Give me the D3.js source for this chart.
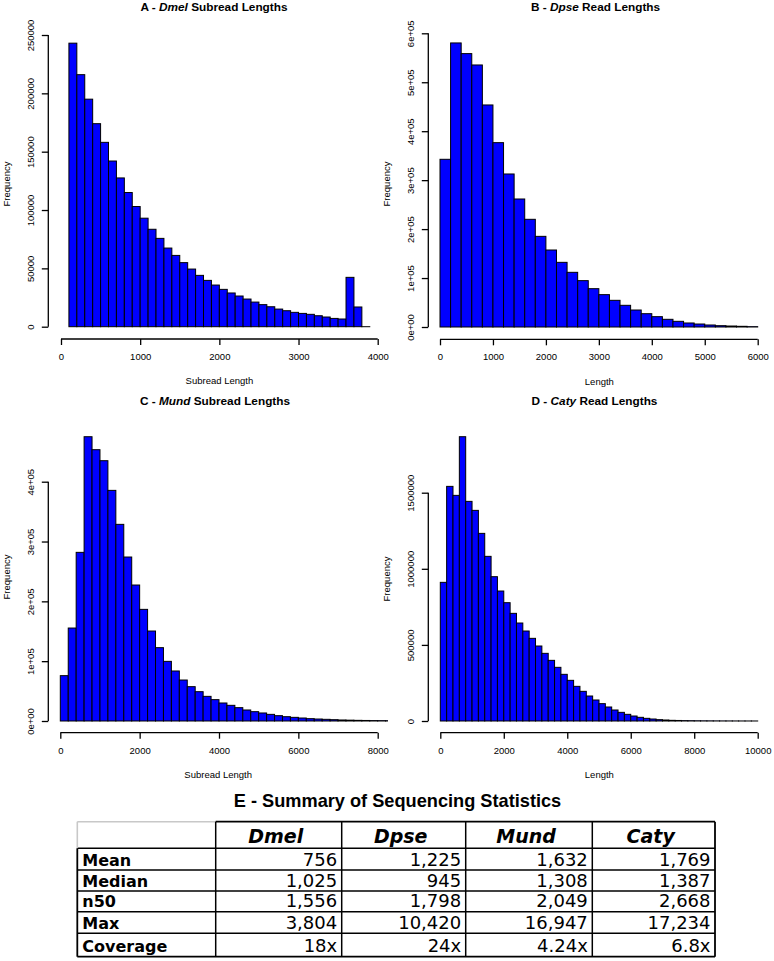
<!DOCTYPE html>
<html>
<head>
<meta charset="utf-8">
<script src="https://cdn.jsdelivr.net/npm/d3@7"></script>
<style>
  html, body { margin: 0; padding: 0; background: #fff; }
  svg { display: block; }
</style>
</head>
<body>
<svg id="chart" width="774" height="961"></svg>
<script>
// ---------------- DATA ----------------
// Panel A - Dmel subread lengths (bins of 100, starting at 100)
const dmelBinStart = 100;
const dmelBinWidth = 100;
const dmelCounts = [243000, 216000, 195000, 174000, 158000, 142000, 127500, 115000, 103000, 93000,
  83500, 75700, 67400, 61100, 54900, 49400, 44000, 39700, 35700, 32000,
  28900, 26300, 23700, 21100, 18900, 17100, 15100, 13700, 12300, 11400,
  10600, 9400, 8300, 7100, 6600, 42300, 16900, 0];
const dmelXTicks = [0, 1000, 2000, 3000, 4000];
const dmelYTicks = [0, 50000, 100000, 150000, 200000, 250000];
const dmelYTickLabels = ["0", "50000", "100000", "150000", "200000", "250000"];

// Panel B - Dpse read lengths (bins of 200, starting at 0)
const dpseBinStart = 0;
const dpseBinWidth = 200;
const dpseCounts = [342600, 580300, 558500, 535300, 453600, 376600, 312600, 261500, 220000, 185200,
  157300, 132100, 111700, 94700, 78300, 66100, 54500, 44300, 34700, 27200,
  21100, 15700, 11600, 8200, 6100, 4100, 2700, 2000, 1400, 700];
const dpseXTicks = [0, 1000, 2000, 3000, 4000, 5000, 6000];
const dpseYTicks = [0, 100000, 200000, 300000, 400000, 500000, 600000];
const dpseYTickLabels = ["0e+00", "1e+05", "2e+05", "3e+05", "4e+05", "5e+05", "6e+05"];

// Panel C - Mund subread lengths (bins of 200, starting at 0)
const mundBinStart = 0;
const mundBinWidth = 200;
const mundCounts = [75800, 155400, 281900, 475200, 453500, 435100, 385500, 328700, 274100, 227300,
  186600, 150400, 122600, 99700, 83600, 68500, 57400, 49000, 41200, 35700,
  30100, 26200, 22300, 18400, 15600, 13400, 11100, 8900, 7200, 6100,
  5000, 3900, 3300, 2800, 2200, 1700, 1400, 1100, 900, 700, 600, 500];
const mundXTicks = [0, 2000, 4000, 6000, 8000];
const mundYTicks = [0, 100000, 200000, 300000, 400000];
const mundYTickLabels = ["0e+00", "1e+05", "2e+05", "3e+05", "4e+05"];

// Panel D - Caty read lengths (bins of 200, starting at 0)
const catyBinStart = 0;
const catyBinWidth = 200;
const catyCounts = [911000, 1541600, 1482500, 1867900, 1443100, 1383900, 1232800, 1081800, 948200, 854000,
  777400, 707300, 643800, 591200, 543100, 492700, 444500, 398500, 352600, 306600,
  267200, 227700, 194900, 164200, 138000, 113900, 92000, 72300, 56900, 43800,
  32800, 24100, 17500, 13100, 8800, 6600, 4400, 3500, 2500, 2000,
  1500, 1200, 1000, 800, 600, 500, 400, 300, 250, 200];
const catyXTicks = [0, 2000, 4000, 6000, 8000, 10000];
const catyYTicks = [0, 500000, 1000000, 1500000];
const catyYTickLabels = ["0", "500000", "1000000", "1500000"];

// Panel titles / axis labels
const panelLetters = ["A", "B", "C", "D"];
const panelSpecies = ["Dmel", "Dpse", "Mund", "Caty"];
const panelTitleRest = [" Subread Lengths", " Read Lengths", " Subread Lengths", " Read Lengths"];
const panelXLabels = ["Subread Length", "Length", "Subread Length", "Length"];

// Table E
const tableTitle = "E - Summary of Sequencing Statistics";
const tableColumns = ["Dmel", "Dpse", "Mund", "Caty"];
const tableRows = ["Mean", "Median", "n50", "Max", "Coverage"];
const statMean = ["756", "1,225", "1,632", "1,769"];
const statMedian = ["1,025", "945", "1,308", "1,387"];
const statN50 = ["1,556", "1,798", "2,049", "2,668"];
const statMax = ["3,804", "10,420", "16,947", "17,234"];
const statCoverage = ["18x", "24x", "4.24x", "6.8x"];

// ---------------- LAYOUT ----------------
const svg = d3.select("#chart");
svg.append("rect").attr("width", 774).attr("height", 961).attr("fill", "#fff");

const panels = [
  { counts: dmelCounts, start: dmelBinStart, width: dmelBinWidth, xTicks: dmelXTicks, yTicks: dmelYTicks, yLabels: dmelYTickLabels,
    xDom: [0, 4000], xRange: [61, 377.7], yDom: [0, 250000], yRange: [326.7, 35],
    yAxisX: 48.3, xAxisY: 339, clipRight: 390.5, clipTop: 20, titleY: 11, titleX: 214, fy: 184, fx: 10 },
  { counts: dpseCounts, start: dpseBinStart, width: dpseBinWidth, xTicks: dpseXTicks, yTicks: dpseYTicks, yLabels: dpseYTickLabels,
    xDom: [0, 6000], xRange: [440, 757.7], yDom: [0, 600000], yRange: [327, 33.3],
    yAxisX: 428.3, xAxisY: 339.3, clipRight: 770.4, clipTop: 20, titleY: 11, titleX: 595.5, fy: 184, fx: 390 },
  { counts: mundCounts, start: mundBinStart, width: mundBinWidth, xTicks: mundXTicks, yTicks: mundYTicks, yLabels: mundYTickLabels,
    xDom: [0, 8000], xRange: [60.3, 377.7], yDom: [0, 400000], yRange: [721, 481.7],
    yAxisX: 48.3, xAxisY: 732.7, clipRight: 388, clipTop: 410, titleY: 404.5, titleX: 215, fy: 577, fx: 10 },
  { counts: catyCounts, start: catyBinStart, width: catyBinWidth, xTicks: catyXTicks, yTicks: catyYTicks, yLabels: catyYTickLabels,
    xDom: [0, 10000], xRange: [440.3, 757.7], yDom: [0, 1500000], yRange: [721, 492.7],
    yAxisX: 428.3, xAxisY: 732.7, clipRight: 770.4, clipTop: 410, titleY: 404.5, titleX: 594.5, fy: 579, fx: 390 }
];

const chartFont = "'Liberation Sans', Arial, Helvetica, sans-serif";

panels.forEach((p, i) => {
  const x = d3.scaleLinear().domain(p.xDom).range(p.xRange);
  const y = d3.scaleLinear().domain(p.yDom).range(p.yRange);
  const g = svg.append("g");

  const clipId = "clip" + i;
  svg.append("clipPath").attr("id", clipId)
    .append("rect")
    .attr("x", p.yAxisX).attr("y", p.clipTop)
    .attr("width", p.clipRight - p.yAxisX).attr("height", p.xAxisY - p.clipTop);

  const bins = p.counts.map((c, k) => ({ x0: p.start + k * p.width, x1: p.start + (k + 1) * p.width, n: c }));

  g.append("g").attr("clip-path", `url(#${clipId})`)
    .selectAll("rect").data(bins).join("rect")
    .attr("x", d => x(d.x0))
    .attr("width", d => x(d.x1) - x(d.x0))
    .attr("y", d => y(d.n))
    .attr("height", d => Math.max(0.01, y(0) - y(d.n)))
    .attr("fill", "#0000ff")
    .attr("stroke", "#000")
    .attr("stroke-width", 1);

  // x axis
  const xa = g.append("g").attr("transform", `translate(0,${p.xAxisY})`)
    .call(d3.axisBottom(x).tickValues(p.xTicks).tickSize(6).tickSizeOuter(0).tickPadding(4).tickFormat(d3.format("d")));
  xa.select(".domain").attr("d", `M${x(p.xTicks[0])},0H${x(p.xTicks[p.xTicks.length - 1])}`)
    .attr("stroke", "#000").attr("stroke-width", 1.3);
  xa.selectAll(".tick line").attr("stroke", "#000").attr("stroke-width", 1.3);
  xa.selectAll(".tick text").attr("font-family", chartFont).attr("font-size", 9.5).attr("fill", "#000")
    .attr("y", 0).attr("dy", 0).attr("transform", "translate(0,21)");

  // y axis
  const ya = g.append("g").attr("transform", `translate(${p.yAxisX},0)`)
    .call(d3.axisLeft(y).tickValues(p.yTicks).tickSize(6.5).tickSizeOuter(0).tickFormat((d, k) => p.yLabels[k]));
  ya.select(".domain").attr("d", `M0,${y(p.yTicks[0])}V${y(p.yTicks[p.yTicks.length - 1])}`)
    .attr("stroke", "#000").attr("stroke-width", 1.3);
  ya.selectAll(".tick line").attr("stroke", "#000").attr("stroke-width", 1.3);
  ya.selectAll(".tick text").attr("font-family", chartFont).attr("font-size", 9.5).attr("fill", "#000")
    .attr("x", 0).attr("dy", 0).attr("text-anchor", "middle")
    .attr("transform", `translate(${-14.8},0) rotate(-90)`);

  // title
  const t = g.append("text").attr("x", p.titleX).attr("y", p.titleY)
    .attr("text-anchor", "middle").attr("font-family", chartFont)
    .attr("font-size", 11.8).attr("font-weight", "bold").attr("fill", "#000");
  t.append("tspan").text(panelLetters[i] + " - ");
  t.append("tspan").attr("font-style", "italic").text(panelSpecies[i]);
  t.append("tspan").text(panelTitleRest[i]);

  // x label
  g.append("text").attr("x", (p.yAxisX + p.clipRight) / 2).attr("y", p.xAxisY + 45.3)
    .attr("text-anchor", "middle").attr("font-family", chartFont).attr("font-size", 9.5)
    .attr("fill", "#000").text(panelXLabels[i]);

  // y label
  g.append("text").attr("transform", `translate(${p.fx},${p.fy}) rotate(-90)`)
    .attr("text-anchor", "middle").attr("font-family", chartFont).attr("font-size", 9.5)
    .attr("fill", "#000").text("Frequency");
});

// ---------------- TABLE ----------------
const tableFont = "'DejaVu Sans', Verdana, sans-serif";
svg.append("text").attr("x", 397.5).attr("y", 806.5).attr("text-anchor", "middle")
  .attr("font-family", chartFont).attr("font-size", 18.2).attr("font-weight", "bold")
  .attr("fill", "#000").text(tableTitle);

const colEdges = [77.3, 215.7, 341.7, 465.7, 592.3, 715];
const rowEdges = [821.7, 848.3, 870, 891, 911.7, 933.3, 956.7];
const tableData = [statMean, statMedian, statN50, statMax, statCoverage];

const tg = svg.append("g");
// header
tg.selectAll("text.hdr").data(tableColumns).join("text").attr("class", "hdr")
  .attr("x", (d, k) => (colEdges[k + 1] + colEdges[k + 2]) / 2 - 3)
  .attr("y", rowEdges[1] - 5)
  .attr("text-anchor", "middle").attr("font-family", tableFont)
  .attr("font-size", 19).attr("font-weight", "bold").attr("font-style", "italic")
  .attr("fill", "#000").text(d => d);
// row labels
tg.selectAll("text.rl").data(tableRows).join("text").attr("class", "rl")
  .attr("x", colEdges[0] + 5)
  .attr("y", (d, k) => rowEdges[k + 2] - 4.3)
  .attr("font-family", tableFont).attr("font-size", 16).attr("font-weight", "bold")
  .attr("fill", "#000").text(d => d);
// values
tableData.forEach((row, r) => {
  tg.selectAll(null).data(row).join("text")
    .attr("x", (d, k) => colEdges[k + 2] - 4.5)
    .attr("y", rowEdges[r + 2] - 4.3)
    .attr("text-anchor", "end").attr("font-family", tableFont).attr("font-size", 18)
    .attr("fill", "#000").text(d => d);
});
// grid lines
const L = colEdges[0], R = colEdges[colEdges.length - 1];
const T = rowEdges[0], B = rowEdges[rowEdges.length - 1];
// horizontal lines
rowEdges.forEach((yv, k) => {
  if (k === 0) {
    tg.append("line").attr("x1", L).attr("x2", colEdges[1]).attr("y1", yv).attr("y2", yv)
      .attr("stroke", "#c8c8c8").attr("stroke-width", 1.6);
    tg.append("line").attr("x1", colEdges[1]).attr("x2", R).attr("y1", yv).attr("y2", yv)
      .attr("stroke", "#000").attr("stroke-width", 1.8);
  } else {
    tg.append("line").attr("x1", L).attr("x2", R).attr("y1", yv).attr("y2", yv)
      .attr("stroke", "#000").attr("stroke-width", k === rowEdges.length - 1 ? 1.8 : 1.5);
  }
});
// vertical lines
colEdges.forEach((xv, k) => {
  if (k === 0) {
    tg.append("line").attr("x1", xv).attr("x2", xv).attr("y1", T).attr("y2", rowEdges[1])
      .attr("stroke", "#c8c8c8").attr("stroke-width", 1.6);
    tg.append("line").attr("x1", xv).attr("x2", xv).attr("y1", rowEdges[1]).attr("y2", B)
      .attr("stroke", "#000").attr("stroke-width", 1.8);
  } else {
    tg.append("line").attr("x1", xv).attr("x2", xv).attr("y1", T).attr("y2", B)
      .attr("stroke", "#000").attr("stroke-width", k === colEdges.length - 1 ? 1.8 : 1.5);
  }
});
</script>
</body>
</html>
